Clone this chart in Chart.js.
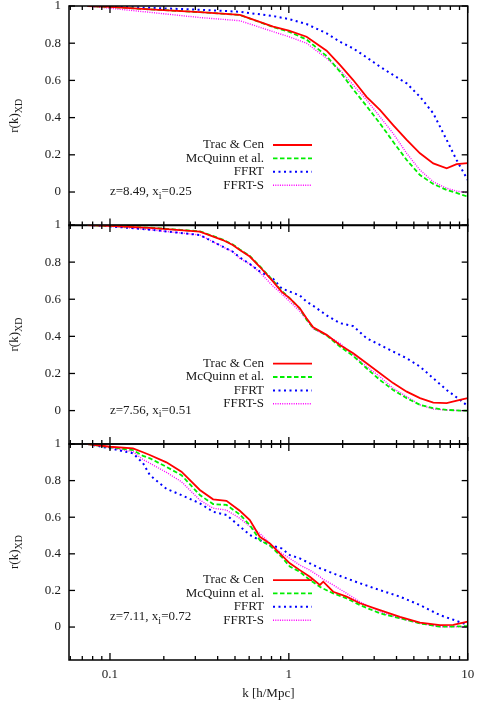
<!DOCTYPE html>
<html><head><meta charset="utf-8">
<script src="https://cdn.jsdelivr.net/npm/chart.js@4/dist/chart.umd.min.js"></script>
<style>
html,body{margin:0;padding:0;background:#fff;width:491px;height:701px;overflow:hidden;position:relative}
canvas{position:absolute;left:0}
</style></head><body>
<canvas id="c1" width="491" height="232" style="top:0px;width:491px;height:232px"></canvas>
<canvas id="c2" width="491" height="232" style="top:219px;width:491px;height:232px"></canvas>
<canvas id="c3" width="491" height="263" style="top:438px;width:491px;height:263px"></canvas>
<script>
// ---------- data ----------
const seriesNames = ['Trac & Cen', 'McQuinn et al.', 'FFRT', 'FFRT-S'];
const yTickValues = [0, 0.2, 0.4, 0.6, 0.8, 1];
const xTickValues = [0.1, 1, 10];
const zValues = ['8.49', '7.56', '7.11'];
const xiValues = ['0.25', '0.51', '0.72'];

// panel 1 : z=8.49
const k1 = [0.075, 0.1, 0.167, 0.318, 0.532, 0.817, 1.0, 1.256, 1.626, 1.93, 2.29, 2.72, 3.23, 3.83, 4.56, 5.41, 6.42, 7.63, 8.67, 10];
const trac1 = [1.0, 0.995, 0.982, 0.967, 0.952, 0.889, 0.868, 0.835, 0.76, 0.683, 0.602, 0.512, 0.441, 0.36, 0.28, 0.208, 0.154, 0.127, 0.15, 0.155];
const mcq1 = [1.0, 0.995, 0.982, 0.967, 0.952, 0.887, 0.862, 0.82, 0.731, 0.647, 0.552, 0.462, 0.369, 0.27, 0.172, 0.091, 0.043, 0.011, -0.005, -0.025];
const ffrt1 = [1.0, 0.997, 0.99, 0.98, 0.969, 0.946, 0.93, 0.903, 0.853, 0.808, 0.772, 0.724, 0.674, 0.629, 0.584, 0.512, 0.423, 0.28, 0.172, 0.065];
const ffrts1 = [1.0, 0.988, 0.966, 0.938, 0.921, 0.862, 0.835, 0.80, 0.719, 0.656, 0.575, 0.495, 0.405, 0.315, 0.208, 0.118, 0.055, 0.02, 0.005, -0.004];

// panel 2 : z=7.56
const k2 = [0.075, 0.1, 0.167, 0.318, 0.427, 0.486, 0.532, 0.605, 0.688, 0.817, 0.91, 1.013, 1.152, 1.256, 1.368, 1.626, 1.93, 2.29, 2.72, 3.23, 3.83, 4.56, 5.41, 6.42, 7.63, 9.05, 10];
const trac2 = [1.0, 0.995, 0.985, 0.964, 0.919, 0.892, 0.865, 0.83, 0.775, 0.695, 0.641, 0.605, 0.551, 0.498, 0.449, 0.408, 0.354, 0.309, 0.255, 0.201, 0.148, 0.102, 0.067, 0.043, 0.04, 0.058, 0.067];
const mcq2 = [1.0, 0.995, 0.986, 0.966, 0.922, 0.895, 0.868, 0.833, 0.778, 0.70, 0.645, 0.605, 0.55, 0.49, 0.445, 0.405, 0.345, 0.295, 0.228, 0.165, 0.111, 0.067, 0.031, 0.013, 0.004, 0.0, 0.0];
const ffrt2 = [1.0, 0.993, 0.975, 0.946, 0.883, 0.856, 0.825, 0.79, 0.75, 0.71, 0.659, 0.641, 0.62, 0.587, 0.565, 0.513, 0.471, 0.455, 0.39, 0.354, 0.318, 0.282, 0.237, 0.174, 0.111, 0.058, 0.025];
const ffrts2 = [1.0, 0.993, 0.975, 0.946, 0.883, 0.856, 0.82, 0.79, 0.745, 0.67, 0.63, 0.587, 0.535, 0.49, 0.44, 0.405, 0.363, 0.30, 0.237, 0.183, 0.12, 0.075, 0.031, 0.008, 0.003, 0.0, 0.0];

// panel 3 : z=7.11
const k3 = [0.075, 0.1, 0.1345, 0.153, 0.167, 0.2068, 0.2509, 0.318, 0.3771, 0.448, 0.532, 0.605, 0.688, 0.783, 0.91, 1.013, 1.152, 1.311, 1.491, 1.557, 1.77, 2.103, 2.497, 3.23, 4.18, 5.41, 7.0, 8.31, 10];
const trac3 = [1.0, 0.985, 0.976, 0.955, 0.94, 0.9, 0.849, 0.749, 0.698, 0.69, 0.635, 0.585, 0.493, 0.457, 0.393, 0.348, 0.311, 0.275, 0.23, 0.248, 0.193, 0.166, 0.13, 0.093, 0.056, 0.024, 0.011, 0.012, 0.03];
const mcq3 = [1.0, 0.982, 0.967, 0.935, 0.922, 0.875, 0.83, 0.721, 0.672, 0.667, 0.615, 0.557, 0.475, 0.445, 0.384, 0.33, 0.302, 0.257, 0.22, 0.21, 0.184, 0.157, 0.12, 0.075, 0.048, 0.02, 0.002, 0.003, 0.005];
const ffrt3 = [1.0, 0.976, 0.949, 0.895, 0.83, 0.755, 0.721, 0.676, 0.63, 0.612, 0.55, 0.503, 0.475, 0.448, 0.43, 0.393, 0.375, 0.348, 0.321, 0.315, 0.293, 0.266, 0.239, 0.202, 0.166, 0.12, 0.065, 0.04, 0.011];
const ffrts3 = [1.0, 0.98, 0.958, 0.915, 0.895, 0.845, 0.794, 0.694, 0.649, 0.639, 0.594, 0.55, 0.512, 0.457, 0.403, 0.375, 0.339, 0.311, 0.275, 0.26, 0.23, 0.184, 0.138, 0.084, 0.048, 0.02, 0.002, 0.002, 0.002];

// ---------- styling ----------
const FONT = '"Liberation Serif", "Times New Roman", serif';
const TXT = '#1a1a1a';
const styles = [
  {color: '#ff0000', dash: [], width: 1.8},
  {color: '#00ee00', dash: [4.5, 2.5], width: 1.8},
  {color: '#0000ff', dash: [2, 3.5], width: 2},
  {color: '#ff00ff', dash: [1, 1.3], width: 1.4}
];

function toPts(k, vals) { return k.map((kv, i) => ({x: kv, y: vals[i]})); }

function drawSubText(ctx, x, y, parts, align) {
  const big = '13px ' + FONT, small = '10px ' + FONT;
  let total = 0;
  parts.forEach(p => { ctx.font = p[1] ? small : big; total += ctx.measureText(p[0]).width; });
  let cx = align === 'center' ? x - total / 2 : x;
  ctx.textAlign = 'left';
  ctx.textBaseline = 'middle';
  parts.forEach(p => {
    ctx.font = p[1] ? small : big;
    ctx.fillText(p[0], cx, y + (p[1] ? 4 : 0));
    cx += ctx.measureText(p[0]).width;
  });
}

const framePlugin = {
  id: 'gnuframe',
  afterDatasetsDraw(chart, args, opts) {
    const {ctx, chartArea: ca, scales: {x, y}} = chart;
    ctx.save();
    ctx.strokeStyle = '#000';
    ctx.lineWidth = 1.3;
    ctx.setLineDash([]);
    const seg = (x1, y1, x2, y2) => { ctx.beginPath(); ctx.moveTo(x1, y1); ctx.lineTo(x2, y2); ctx.stroke(); };
    yTickValues.forEach(v => {
      const py = y.getPixelForValue(v);
      seg(ca.left, py, ca.left + 6, py);
      seg(ca.right, py, ca.right - 6, py);
    });
    [0.01, 0.1, 1].forEach(d => {
      for (let m = 1; m <= 9; m++) {
        const v = m * d * 1.0000001;
        if (v < x.min || v > x.max * 1.0001) continue;
        const len = m === 1 ? 7 : 4;
        const px = x.getPixelForValue(m * d);
        seg(px, ca.bottom, px, ca.bottom - len);
        seg(px, ca.top, px, ca.top + len);
      }
    });
    const p10 = x.getPixelForValue(10);
    seg(p10, ca.bottom, p10, ca.bottom - 7);
    seg(p10, ca.top, p10, ca.top + 7);
    ctx.lineWidth = 1.5;
    ctx.strokeRect(ca.left, ca.top, ca.right - ca.left, ca.bottom - ca.top);

    // legend
    const y0 = y.getPixelForValue(0);
    ctx.font = '13px ' + FONT;
    ctx.textAlign = 'right';
    ctx.textBaseline = 'middle';
    chart.data.datasets.forEach((ds, i) => {
      const ry = y0 - 47 + i * 13.4;
      ctx.fillStyle = TXT;
      ctx.font = '13px ' + FONT;
      ctx.textAlign = 'right';
      ctx.fillText(ds.label, ca.left + 195, ry);
      ctx.strokeStyle = ds.borderColor;
      ctx.lineWidth = ds.borderWidth;
      ctx.setLineDash(ds.borderDash);
      seg(ca.left + 204, ry, ca.left + 243, ry);
    });
    ctx.setLineDash([]);
    ctx.fillStyle = TXT;
    drawSubText(ctx, x.getPixelForValue(0.1), y.getPixelForValue(opts.labelY),
      [['z=' + opts.z + ', x', false], ['i', true], ['=' + opts.xi, false]], 'left');
    ctx.save();
    ctx.translate(15, (ca.top + ca.bottom) / 2);
    ctx.rotate(-Math.PI / 2);
    drawSubText(ctx, 0, 0, [['r(k)', false], ['XD', true]], 'center');
    ctx.restore();
    ctx.restore();
  }
};

function makePanel(id, k, vals, idx, isBottom, padTop, padBottom, labelY) {
  const datasets = vals.map((v, i) => ({
    label: seriesNames[i],
    data: toPts(k, v),
    borderColor: styles[i].color,
    borderDash: styles[i].dash,
    borderWidth: styles[i].width,
    pointRadius: 0,
    fill: false,
    tension: 0
  }));
  const tickFont = {family: FONT, size: 13, lineHeight: 1.2};
  return new Chart(document.getElementById(id), {
    type: 'line',
    data: {datasets},
    plugins: [framePlugin],
    options: {
      responsive: false,
      animation: false,
      layout: {padding: {left: 0, right: 23.3, top: padTop, bottom: padBottom}},
      plugins: {
        legend: {display: false},
        tooltip: {enabled: false},
        gnuframe: {z: zValues[idx], xi: xiValues[idx], labelY: labelY}
      },
      scales: {
        x: {
          type: 'logarithmic', min: 0.059, max: 10,
          display: isBottom,
          grid: {display: false, drawTicks: false},
          border: {display: false},
          ticks: {padding: 7, font: tickFont, color: TXT, maxRotation: 0, autoSkip: false,
                  callback: v => String(v)},
          afterBuildTicks: s => { s.ticks = xTickValues.map(v => ({value: v})); },
          afterFit: s => { if (isBottom) { s.height = 41; } else { s.height = 0; } s.paddingLeft = 0; s.paddingRight = 0; },
          title: {display: true, text: 'k [h/Mpc]', color: TXT,
                  font: {family: FONT, size: 13, lineHeight: 1.2}, padding: {top: 0, bottom: 0}}
        },
        y: {
          type: 'linear', min: -0.18, max: 1,
          grid: {display: false, drawTicks: false},
          border: {display: false},
          ticks: {padding: 8, font: tickFont, color: TXT, callback: v => String(v)},
          afterBuildTicks: s => { s.ticks = yTickValues.map(v => ({value: v})); },
          afterFit: s => { s.width = 69; s.paddingTop = 0; s.paddingBottom = 0; }
        }
      }
    }
  });
}

makePanel('c1', k1, [trac1, mcq1, ffrt1, ffrts1], 0, false, 6, 6.5, 0);
makePanel('c2', k2, [trac2, mcq2, ffrt2, ffrts2], 1, false, 6, 7, 0);
makePanel('c3', k3, [trac3, mcq3, ffrt3, ffrts3], 2, true, 6, 0, 0.055);
</script>
</body></html>
